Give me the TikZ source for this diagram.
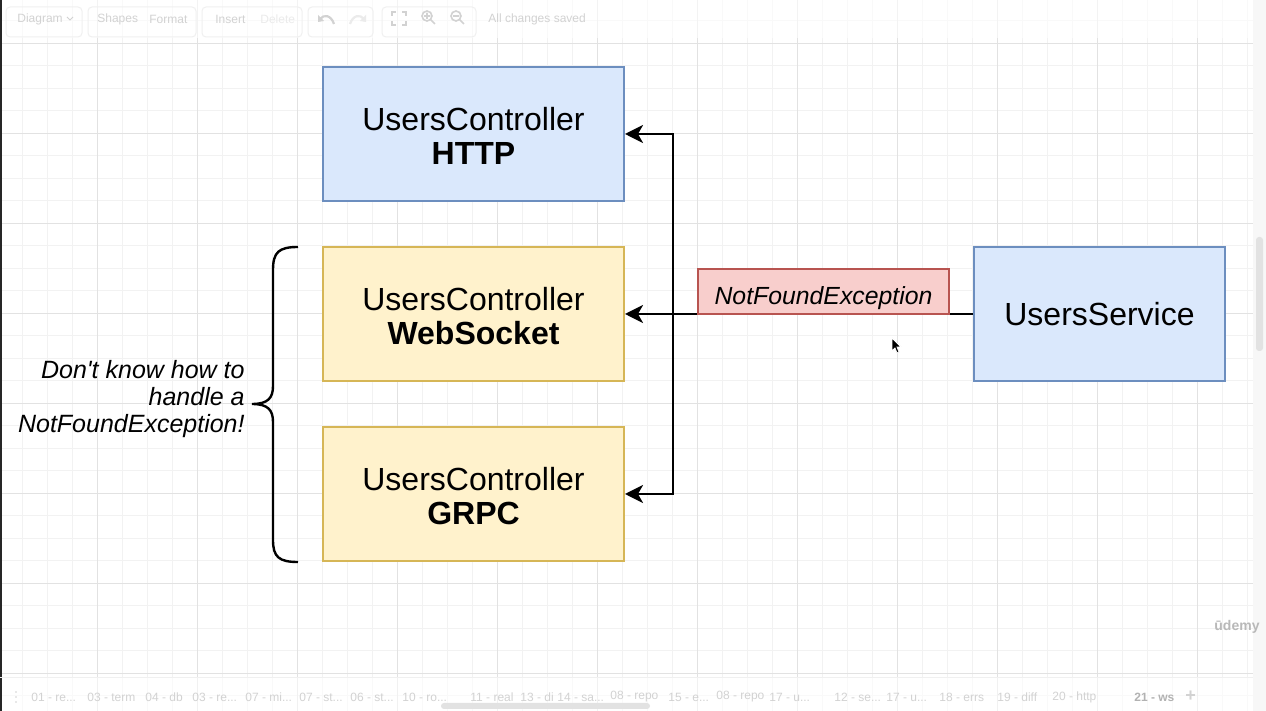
\documentclass[tikz,border=0pt]{standalone}
\usepackage{fontspec}
\setmainfont{Liberation Sans}
\usetikzlibrary{arrows.meta}
\definecolor{gminor}{HTML}{F2F2F2}
\definecolor{gmajor}{HTML}{E2E2E2}
\definecolor{bluefill}{HTML}{DAE8FC}
\definecolor{blueline}{HTML}{6C8EBF}
\definecolor{yelfill}{HTML}{FFF2CC}
\definecolor{yelline}{HTML}{D6B656}
\definecolor{redfill}{HTML}{F8CECC}
\definecolor{redline}{HTML}{B85450}
\definecolor{uitext}{HTML}{D2D2D2}
\definecolor{uifaint}{HTML}{EBEBEB}
\definecolor{uiline}{HTML}{F0F0F0}
\definecolor{stripfill}{HTML}{F7F7F7}
\definecolor{thumbfill}{HTML}{E2E2E2}
\begin{document}
\begin{tikzpicture}[x=0.5pt,y=-0.5pt,
  box/.style={draw, line width=1pt, minimum width=150.5pt, minimum height=67pt,
    inner sep=0pt, align=center, font=\fontsize{16}{17}\selectfont},
  bluebox/.style={box, fill=bluefill, draw=blueline},
  yelbox/.style={box, fill=yelfill, draw=yelline},
  conn/.style={line width=1.25pt, black},
  arr/.style={conn, -{Stealth[length=9pt,width=9pt,inset=2.5pt]}},
  ui/.style={text=uitext, font=\fontsize{6}{7}\selectfont, inner sep=0pt, anchor=west},
  tab/.style={text=uitext, font=\fontsize{6}{7}\selectfont, inner sep=0pt, anchor=west},
  uibtn/.style={draw=uiline, line width=0.5pt, rounded corners=2pt},
  icon/.style={draw=uitext, line width=0.8pt},
]
\useasboundingbox (0,0) rectangle (1266,711);
\fill[white] (0,0) rectangle (1266,711);
% grid
\foreach \i in {0,...,49}{\draw[gminor, line width=0.5pt] ({22.7+25*\i},0) -- ({22.7+25*\i},711);}
\foreach \j in {0,...,31}{\draw[gminor, line width=0.5pt] (0,{-1.7+22.5*\j}) -- (1253,{-1.7+22.5*\j});}
\foreach \m in {0,...,11}{\draw[gmajor, line width=0.6pt] ({97.7+100*\m},0) -- ({97.7+100*\m},711);}
\foreach \m in {0,...,7}{\draw[gmajor, line width=0.6pt] (0,{43.3+90*\m}) -- (1253,{43.3+90*\m});}
% UI overlays
\fill[white, opacity=0.6] (0,0) rectangle (1253,38);
\fill[white, opacity=0.55] (0,678) rectangle (1253,711);
\fill[stripfill] (1253,0) rectangle (1266,711);
\fill[thumbfill, rounded corners=1.5pt] (1256,237) rectangle (1263,351);
\fill[thumbfill, rounded corners=1.5pt] (441,703) rectangle (650,709);
\fill[black!85] (0,0) rectangle (2,711);
% toolbar
\draw[uibtn] (6,7) rectangle (82,37);
\draw[uibtn] (88,7) rectangle (196,37);
\draw[uibtn] (202,7) rectangle (302,37);
\draw[uibtn] (308,7) rectangle (373,37);
\draw[uibtn] (382,7) rectangle (476,37);
\node[ui] (tdiagram) at (17,19) {Diagram};
\draw[icon, line width=0.5pt] (67,17) -- (70,20) -- (73,17);
\node[ui] (tshapes) at (97,19) {Shapes};
\node[ui] (tformat) at (149,19) {Format};
\node[ui] (tinsert) at (215,19) {Insert};
\node[ui, text=uifaint] (tdelete) at (260,19) {Delete};
\draw[icon, line width=1.1pt] (334,24) .. controls (331,15) and (324,14) .. (320,19);
\fill[uitext] (318,15) -- (318,22) -- (324,21) -- cycle;
\draw[draw=uifaint, line width=1.1pt] (350,24) .. controls (353,15) and (360,14) .. (364,19);
\fill[uifaint] (366,15) -- (366,22) -- (360,21) -- cycle;
\draw[icon] (392,16) -- (392,12) -- (396,12) (402,12) -- (406,12) -- (406,16)
  (406,21) -- (406,25) -- (402,25) (396,25) -- (392,25) -- (392,21);
\draw[icon] (427,16) circle[radius=5] (431,20) -- (435,24) (424,16) -- (430,16) (427,13) -- (427,19);
\draw[icon] (456,16) circle[radius=5] (460,20) -- (464,24) (453,16) -- (459,16);
\node[ui] (tsaved) at (488,19) {All changes saved};
% bottom tabs
\draw[uiline, line width=0.5pt] (0,678) -- (1253,678);
\fill[uitext] (16,692) circle[radius=0.8] (16,697) circle[radius=0.8] (16,702) circle[radius=0.8];
\node[tab] (t1) at (31,697) {01 - re...};
\node[tab] (t2) at (87,697) {03 - term};
\node[tab] (t3) at (145,697) {04 - db};
\node[tab] (t4) at (192,697) {03 - re...};
\node[tab] (t5) at (245,697) {07 - mi...};
\node[tab] (t6) at (299,697) {07 - st...};
\node[tab] (t7) at (350,697) {06 - st...};
\node[tab] (t8) at (402,697) {10 - ro...};
\node[tab] (t9) at (470,697) {11 - real};
\node[tab] (t10) at (520,697) {13 - di};
\node[tab] (t11) at (557,697) {14 - sa...};
\node[tab] (t12) at (610,697) {08 - repo};
\node[tab] (t13) at (668,697) {15 - e...};
\node[tab] (t14) at (716,697) {08 - repo};
\node[tab] (t15) at (769,697) {17 - u...};
\node[tab] (t16) at (834,697) {12 - se...};
\node[tab] (t17) at (886,697) {17 - u...};
\node[tab] (t18) at (939,697) {18 - errs};
\node[tab] (t19) at (997,697) {19 - diff};
\node[tab] (t20) at (1052,697) {20 - http};
\node[tab, text=black!30, font=\fontsize{6}{7}\selectfont\bfseries] (t21) at (1134,697) {21 - ws};
\node[tab, font=\fontsize{9}{9}\selectfont\bfseries] (tplus) at (1185,696) {+};
% watermark
\node[text=black!28, font=\fontsize{7}{8}\selectfont\bfseries, inner sep=0pt] (udemy) at (1237,627) {ūdemy};

% diagram
\node[bluebox] (http) at (473.5,134) {\rule{0pt}{13.5pt}UsersController\\\textbf{HTTP}};
\node[yelbox] (ws) at (473.5,314) {\rule{0pt}{13.5pt}UsersController\\\textbf{WebSocket}};
\node[yelbox] (grpc) at (473.5,494) {\rule{0pt}{13.5pt}UsersController\\\textbf{GRPC}};
\node[bluebox, minimum width=125.5pt] (svc) at (1099.5,314) {UsersService};
\coordinate (j) at (673,314);
\draw[conn] (svc.west) -- (j);
\draw[arr] (j) -- (ws.east);
\draw[arr] (j) |- (http.east);
\draw[arr] (j) |- (grpc.east);
\node[draw=redline, fill=redfill, line width=1pt, minimum width=125.5pt, minimum height=22.5pt,
  inner sep=0pt, font=\fontsize{12.4}{14}\selectfont\itshape] (nfe) at (823.5,291.5) {\rule{0pt}{15.4pt}NotFoundException};
% brace
\draw[line width=1.2pt] (298,247) .. controls (279,247) and (273,252) .. (273,270) -- (273,386)
  .. controls (273,398) and (268,404) .. (252,404)
  .. controls (268,404) and (273,410) .. (273,422) -- (273,540)
  .. controls (273,557) and (279,562) .. (298,562);
\node[anchor=east, align=right, inner sep=0pt, font=\fontsize{12.5}{13.5}\selectfont\itshape] (note) at (245,399)
  {Don\textquotesingle t know how to\\handle a\\NotFoundException!};
% cursor
\filldraw[fill=black, draw=white, line width=0.4pt] (892,338) -- (892,351) -- (895,348) -- (897,353) -- (899,352) -- (897,347) -- (901,347) -- cycle;
\end{tikzpicture}
\end{document}
